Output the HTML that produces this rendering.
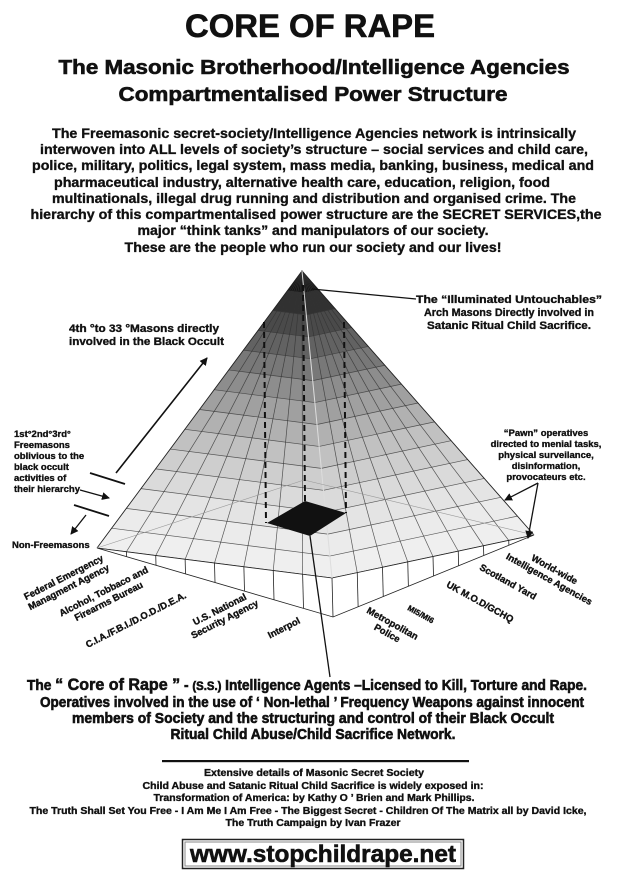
<!DOCTYPE html>
<html><head><meta charset="utf-8"><style>
html,body{margin:0;padding:0;background:#fff;}
svg{display:block;}
text{font-family:"Liberation Sans",sans-serif;font-weight:bold;fill:#111;stroke:#111;stroke-width:0.35;}
.big text{stroke-width:0.6;}
</style></head><body>
<svg id="s" width="620" height="888" viewBox="0 0 620 888" xmlns="http://www.w3.org/2000/svg">
<defs><marker id="ah" markerWidth="8" markerHeight="8" refX="7" refY="4" orient="auto" markerUnits="userSpaceOnUse"><path d="M0,0 L8,4 L0,8 z" fill="#111"/></marker></defs>
<g id="pyr"></g>
<g font-size="14" class="big">
<text x="310" y="37" font-size="32" text-anchor="middle" textLength="250" lengthAdjust="spacingAndGlyphs">CORE OF RAPE</text>
<text x="314" y="74" font-size="20" text-anchor="middle" textLength="511" lengthAdjust="spacingAndGlyphs">The Masonic Brotherhood/Intelligence Agencies</text>
<text x="313" y="101" font-size="20" text-anchor="middle" textLength="389" lengthAdjust="spacingAndGlyphs">Compartmentalised Power Structure</text>
</g>
<g font-size="14">
<text x="314" y="138" text-anchor="middle" textLength="524" lengthAdjust="spacingAndGlyphs">The Freemasonic secret-society/Intelligence Agencies network is intrinsically</text>
<text x="314" y="154" text-anchor="middle" textLength="548" lengthAdjust="spacingAndGlyphs">interwoven into ALL levels of society’s structure – social services and child care,</text>
<text x="313" y="170" text-anchor="middle" textLength="562" lengthAdjust="spacingAndGlyphs">police, military, politics, legal system, mass media, banking, business, medical and</text>
<text x="302" y="187" text-anchor="middle" textLength="496" lengthAdjust="spacingAndGlyphs">pharmaceutical industry, alternative health care, education, religion, food</text>
<text x="314" y="203" text-anchor="middle" textLength="524" lengthAdjust="spacingAndGlyphs">multinationals, illegal drug running and distribution and organised crime. The</text>
<text x="316" y="219" text-anchor="middle" textLength="571" lengthAdjust="spacingAndGlyphs">hierarchy of this compartmentalised power structure are the SECRET SERVICES,the</text>
<text x="313" y="235" text-anchor="middle" textLength="351" lengthAdjust="spacingAndGlyphs">major “think tanks” and manipulators of our society.</text>
<text x="313" y="252" text-anchor="middle" textLength="377" lengthAdjust="spacingAndGlyphs">These are the people who run our society and our lives!</text>
</g>
<g font-size="11">
<text x="69" y="332" textLength="150" lengthAdjust="spacingAndGlyphs">4th °to 33 °Masons directly</text>
<text x="69" y="345" textLength="155" lengthAdjust="spacingAndGlyphs">involved in the Black Occult</text>
<text x="509" y="303" text-anchor="middle" textLength="186" lengthAdjust="spacingAndGlyphs">The “Illuminated Untouchables”</text>
<text x="509" y="316" text-anchor="middle" textLength="170" lengthAdjust="spacingAndGlyphs">Arch Masons Directly involved in</text>
<text x="509" y="329" text-anchor="middle" textLength="164" lengthAdjust="spacingAndGlyphs">Satanic Ritual Child Sacrifice.</text>
</g>
<g font-size="9.5">
<text x="14" y="437">1st°2nd°3rd°</text>
<text x="14" y="448">Freemasons</text>
<text x="14" y="459">oblivious to the</text>
<text x="14" y="470">black occult</text>
<text x="14" y="481">activities of</text>
<text x="14" y="492">their hierarchy</text>
<text x="12" y="548">Non-Freemasons</text>
<text x="546" y="436" text-anchor="middle">“Pawn” operatives</text>
<text x="546" y="447" text-anchor="middle">directed to menial tasks,</text>
<text x="546" y="458" text-anchor="middle">physical surveilance,</text>
<text x="546" y="469" text-anchor="middle">disinformation,</text>
<text x="546" y="480" text-anchor="middle">provocateurs etc.</text>
</g>
<g font-size="9.5" text-anchor="middle">
<g transform="translate(66,582) rotate(-27)"><text y="-2">Federal Emergency</text><text y="9">Managment Agency</text></g>
<g transform="translate(106,596) rotate(-27)"><text y="-2">Alcohol, Tobbaco and</text><text y="9">Firearms Bureau</text></g>
<g transform="translate(136,620) rotate(-27)"><text y="3">C.I.A./F.B.I./D.O.D./D.E.A.</text></g>
<g transform="translate(222,614) rotate(-27)"><text y="-2">U.S. National</text><text y="9">Security Agency</text></g>
<g transform="translate(284,628) rotate(-27)"><text y="3">Interpol</text></g>
<g transform="translate(552,574) rotate(29)"><text y="-2">World-wide</text><text y="9">Intelligence Agencies</text></g>
<g transform="translate(508,582) rotate(29)"><text y="3">Scotland Yard</text></g>
<g transform="translate(480,602) rotate(29)"><text y="3">UK M.O.D/GCHQ</text></g>
<g transform="translate(421,614) rotate(29)"><text y="3" font-size="8">MI5/MI6</text></g>
<g transform="translate(390,628) rotate(29)"><text y="-2">Metropolitan</text><text y="9">Police</text></g>
</g>
<g font-size="14.5" class="big">
<text x="307" y="690" text-anchor="middle" textLength="560" lengthAdjust="spacingAndGlyphs">The <tspan font-size="17">“ Core of Rape ”</tspan> - <tspan font-size="12">(S.S.)</tspan> Intelligence Agents –Licensed to Kill, Torture and Rape.</text>
<text x="312" y="707" text-anchor="middle" textLength="544" lengthAdjust="spacingAndGlyphs">Operatives involved in the use of  ‘ Non-lethal ’ Frequency Weapons against innocent</text>
<text x="313" y="723" text-anchor="middle" textLength="482" lengthAdjust="spacingAndGlyphs">members of Society and the structuring and control of their Black Occult</text>
<text x="313" y="739" text-anchor="middle" textLength="285" lengthAdjust="spacingAndGlyphs">Ritual Child Abuse/Child Sacrifice Network.</text>
</g>
<rect x="162" y="760" width="307" height="2.2" fill="#111"/>
<g font-size="10" text-anchor="middle">
<text x="314" y="776" textLength="220" lengthAdjust="spacingAndGlyphs">Extensive details of Masonic Secret Society</text>
<text x="313" y="789" textLength="341" lengthAdjust="spacingAndGlyphs">Child Abuse and Satanic Ritual Child Sacrifice is widely exposed in:</text>
<text x="314" y="801" textLength="321" lengthAdjust="spacingAndGlyphs">Transformation of America: by Kathy O ’ Brien and Mark Phillips.</text>
<text x="308" y="814" textLength="557" lengthAdjust="spacingAndGlyphs">The Truth Shall Set You Free - I Am Me I Am Free - The Biggest Secret - Children Of The Matrix all by David Icke,</text>
<text x="313" y="826" textLength="175" lengthAdjust="spacingAndGlyphs">The Truth Campaign by Ivan Frazer</text>
</g>
<rect x="182.5" y="839.5" width="281" height="29" fill="#fff" stroke="#222" stroke-width="1.5"/>
<rect x="185" y="842" width="276" height="24" fill="none" stroke="#888" stroke-width="1"/>
<g class="big"><text x="323" y="862" font-size="24" text-anchor="middle" textLength="266" lengthAdjust="spacingAndGlyphs">www.stopchildrape.net</text></g>
</svg>
<script>
(function(){
var g=document.getElementById('pyr'),h='';
var A=[302,271],L=[97,548],F=[332,578],F2=[333,617],R=[534,535],B=[304,480];
function lp(p,q,t){return [p[0]+(q[0]-p[0])*t,p[1]+(q[1]-p[1])*t];}
function P(a){return a[0].toFixed(1)+','+a[1].toFixed(1);}
var N=14,M=8;
function face(P1,P2){
 for(var k=0;k<N;k++){
  var v0=k/N,v1=(k+1)/N,vm=(k+0.5)/N;
  var gv=Math.round(8+232*(1-Math.pow(1-vm,1.7)));
  var c='rgb('+gv+','+gv+','+gv+')';
  var a=lp(A,P1,v0),b=lp(A,P2,v0),cc=lp(A,P2,v1),d=lp(A,P1,v1);
  h+='<polygon points="'+P(a)+' '+P(b)+' '+P(cc)+' '+P(d)+'" fill="'+c+'" stroke="'+c+'" stroke-width="0.6"/>';
 }
 for(var k=1;k<=N;k++){var v=k/N;h+='<line x1="'+lp(A,P1,v)[0]+'" y1="'+lp(A,P1,v)[1]+'" x2="'+lp(A,P2,v)[0]+'" y2="'+lp(A,P2,v)[1]+'" stroke="#333" stroke-width="0.7" opacity="0.8"/>';}
 for(var j=1;j<M;j++){var bp=lp(P1,P2,j/M);h+='<line x1="'+A[0]+'" y1="'+A[1]+'" x2="'+bp[0]+'" y2="'+bp[1]+'" stroke="#333" stroke-width="0.7" opacity="0.8"/>';}
}
face(L,F);face(F,R);
h+='<polygon points="'+P(L)+' '+P(F)+' '+P(R)+' '+P(F2)+'" fill="#fff" stroke="#222" stroke-width="0.8"/>';
for(var j=1;j<M;j++){var a=lp(L,F,j/M),b=lp(L,F2,j/M);h+='<line x1="'+a[0]+'" y1="'+a[1]+'" x2="'+b[0]+'" y2="'+b[1]+'" stroke="#222" stroke-width="0.8"/>';
 a=lp(F,R,j/M);b=lp(F2,R,j/M);h+='<line x1="'+a[0]+'" y1="'+a[1]+'" x2="'+b[0]+'" y2="'+b[1]+'" stroke="#222" stroke-width="0.8"/>';}
h+='<line x1="'+F[0]+'" y1="'+F[1]+'" x2="'+F2[0]+'" y2="'+F2[1]+'" stroke="#222" stroke-width="0.8"/>';
h+='<polyline points="'+P(L)+' '+P(A)+' '+P(R)+'" fill="none" stroke="#222" stroke-width="0.9"/>';
h+='<line x1="'+A[0]+'" y1="'+A[1]+'" x2="'+F[0]+'" y2="'+F[1]+'" stroke="#ddd" stroke-width="1"/>';
h+='<polyline points="'+P(L)+' '+P(B)+' '+P(R)+'" fill="none" stroke="#999" stroke-width="0.6"/>';
h+='<line x1="264" y1="322" x2="266" y2="523" stroke="#111" stroke-width="2" stroke-dasharray="6,4"/>';
h+='<line x1="303" y1="285" x2="305" y2="501" stroke="#111" stroke-width="2" stroke-dasharray="6,4"/>';
h+='<line x1="344" y1="322" x2="346" y2="513" stroke="#111" stroke-width="2" stroke-dasharray="6,4"/>';
h+='<polygon points="267,523 305,501 346,513 310,536" fill="#111"/>';
h+='<line x1="310" y1="536" x2="330" y2="677" stroke="#111" stroke-width="1.3"/>';
h+='<line x1="312" y1="289" x2="416" y2="299" stroke="#111" stroke-width="1.3"/>';
h+='<line x1="116" y1="473" x2="207" y2="358" stroke="#111" stroke-width="1.6" marker-end="url(#ah)"/>';
h+='<line x1="90" y1="473" x2="125" y2="484" stroke="#111" stroke-width="1.8"/>';
h+='<line x1="74" y1="505" x2="109" y2="516" stroke="#111" stroke-width="1.8"/>';
h+='<line x1="80" y1="490" x2="109" y2="498" stroke="#111" stroke-width="1.3" marker-end="url(#ah)"/>';
h+='<line x1="86" y1="515" x2="71" y2="534" stroke="#111" stroke-width="1.3" marker-end="url(#ah)"/>';
h+='<line x1="538" y1="483" x2="505" y2="500" stroke="#111" stroke-width="1.3" marker-end="url(#ah)"/>';
h+='<line x1="538" y1="483" x2="528" y2="538" stroke="#111" stroke-width="1.3" marker-end="url(#ah)"/>';
g.innerHTML=h;
})();
</script>
</body></html>
